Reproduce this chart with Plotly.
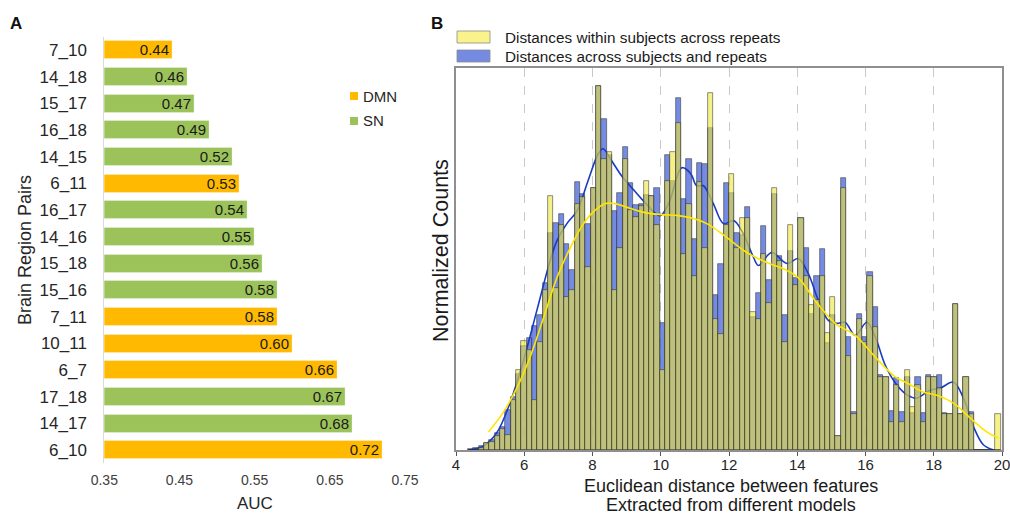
import numpy as np
import plotly.graph_objects as go

# ---------------- Panel A data ----------------
pairs = ["7_10", "14_18", "15_17", "16_18", "14_15", "6_11", "16_17", "14_16",
         "15_18", "15_16", "7_11", "10_11", "6_7", "17_18", "14_17", "6_10"]
auc = [0.44, 0.46, 0.47, 0.49, 0.52, 0.53, 0.54, 0.55,
       0.56, 0.58, 0.58, 0.60, 0.66, 0.67, 0.68, 0.72]
network = ["DMN", "SN", "SN", "SN", "SN", "DMN", "SN", "SN",
           "SN", "SN", "DMN", "DMN", "DMN", "SN", "SN", "DMN"]
auc_ticks = [0.35, 0.45, 0.55, 0.65, 0.75]

# ---------------- Panel B data ----------------
bin_first_left = 4.356
bin_width = 0.156
across_counts = [1, 2, 4, 7, 10, 17, 23, 40, 53, 76, 104, 112, 124, 135, 167, 218, 228, 237, 207, 180,
                 269, 257, 227, 263, 365, 332, 296, 240, 258, 304, 268, 246, 247, 256, 255, 263, 127, 296, 270, 353,
                 252, 292, 212, 288, 287, 323, 155, 186, 268, 258, 218, 216, 244, 133, 157, 225, 170, 257, 195, 135,
                 200, 172, 233, 203, 136, 174, 202, 107, 135, 14, 273, 113, 38, 136, 113, 178, 143, 75, 73, 39,
                 72, 38, 73, 37, 73, 37, 75, 73, 75, 37, 36, 146, 36, 73, 38, 0, 0, 0, 0, 0]
within_counts = [0, 0, 2, 7, 8, 14, 21, 15, 50, 80, 109, 100, 50, 108, 160, 255, 162, 226, 153, 160,
                 247, 254, 183, 263, 365, 292, 299, 160, 203, 292, 241, 234, 245, 270, 255, 226, 80, 270, 299, 328,
                 197, 247, 174, 269, 203, 358, 131, 116, 226, 277, 203, 233, 233, 138, 131, 197, 147, 263, 190, 108,
                 226, 165, 233, 174, 145, 150, 174, 117, 153, 14, 263, 94, 36, 131, 108, 174, 123, 73, 73, 28,
                 65, 28, 80, 43, 65, 28, 73, 73, 62, 36, 36, 146, 36, 73, 36, 0, 0, 0, 0, 36]
across_counts = [v / 1000 for v in across_counts]
within_counts = [v / 1000 for v in within_counts]

kde_across_x = [4.40, 4.80, 5.19, 5.58, 5.98, 6.37, 6.76, 6.96, 7.25, 7.55, 7.87, 8.17, 8.31, 8.56, 8.85,
                9.15, 9.54, 9.98, 10.23, 10.62, 10.88, 11.05, 11.25, 11.54, 11.84, 12.13, 12.37, 12.72, 12.86,
                13.25, 13.70, 14.03, 14.32, 14.62, 14.91, 15.16, 15.40, 15.70, 16.04, 16.29, 16.58, 16.88,
                17.23, 17.50, 17.89, 18.19, 18.58, 18.87, 19.17, 19.46, 19.76]
kde_across_y = [0, 4, 17, 47, 90, 140, 190, 210, 227, 240, 270, 297, 302, 290, 275,
                263, 248, 235, 247, 283, 277, 265, 265, 247, 227, 230, 220, 193, 185,
                198, 187, 192, 177, 150, 130, 127, 128, 115, 128, 113, 85, 67,
                55, 52, 60, 62, 68, 52, 23, 5, 0]
kde_within_x = [4.95, 5.39, 5.78, 6.17, 6.57, 6.96, 7.35, 7.70, 7.97, 8.36, 8.65, 9.04, 9.54, 10.02,
                10.51, 10.86, 11.35, 11.94, 12.52, 13.11, 13.70, 14.05, 14.52, 15.11, 15.70, 16.29,
                16.88, 17.23, 17.70, 18.09, 18.58, 19.07, 19.56, 19.89]
kde_within_y = [18, 38, 62, 93, 133, 173, 203, 225, 237, 247, 247, 243, 238, 236,
                235, 233, 227, 213, 198, 188, 180, 172, 150, 127, 115, 93,
                73, 67, 58, 55, 47, 32, 18, 12]
kde_across_y = [v / 1000 for v in kde_across_y]
kde_within_y = [v / 1000 for v in kde_within_y]
dist_ticks = [4, 6, 8, 10, 12, 14, 16, 18, 20]

bin_centers = bin_first_left + bin_width * (np.arange(len(across_counts)) + 0.5)

# ---------------- styling ----------------
W, H = 1010, 515
FONT = "Liberation Sans, Arial, sans-serif"
ORANGE = "#FFB901"
GREEN = "#9CC35A"
BLUE_BAR = "rgba(70,100,215,0.75)"
YEL_BAR = "rgba(240,230,60,0.6)"
EDGE = "rgba(45,45,45,0.75)"


def px_x(p):
    return p / W


def px_y(p):
    return 1 - p / H


fig = go.Figure()

# Panel A bars
for net, col in [("DMN", ORANGE), ("SN", GREEN)]:
    ys = [p for p, n in zip(pairs, network) if n == net]
    xs = [a for a, n in zip(auc, network) if n == net]
    fig.add_trace(go.Bar(
        x=xs, y=ys, orientation="h", name=net, width=0.68,
        marker=dict(color=col, line=dict(color="rgba(255,255,255,0.6)", width=0.5)),
        text=xs, texttemplate="%{x:.2f}", textposition="inside", insidetextanchor="end",
        constraintext="none",
        textfont=dict(size=15, color="#1a1a1a", family=FONT),
        xaxis="x", yaxis="y", showlegend=False, hoverinfo="skip", cliponaxis=True))

# Panel B: across subjects (blue) bars + KDE under the yellow layer
fig.add_trace(go.Bar(
    x=bin_centers, y=across_counts, width=bin_width,
    marker=dict(color=BLUE_BAR, line=dict(color=EDGE, width=0.7)),
    xaxis="x2", yaxis="y2", showlegend=False))
fig.add_trace(go.Scatter(
    x=kde_across_x, y=kde_across_y, mode="lines", line=dict(color="#1a3cc0", width=1.6, shape="spline"),
    xaxis="x2", yaxis="y2", showlegend=False))
# within subjects (yellow) on overlay axes
fig.add_trace(go.Bar(
    x=bin_centers, y=within_counts, width=bin_width,
    marker=dict(color=YEL_BAR, line=dict(color=EDGE, width=0.7)),
    xaxis="x3", yaxis="y3", showlegend=False))
fig.add_trace(go.Scatter(
    x=kde_within_x, y=kde_within_y, mode="lines", line=dict(color="#FFE600", width=1.6, shape="spline"),
    xaxis="x3", yaxis="y3", showlegend=False))

yB_top = 0.383

fig.update_layout(
    template="none",
    width=W, height=H, margin=dict(l=0, r=0, t=0, b=0, pad=0, autoexpand=False),
    paper_bgcolor="white", plot_bgcolor="rgba(0,0,0,0)",
    barmode="overlay", bargap=0, showlegend=False,
    font=dict(family=FONT, color="#262626"),
    xaxis=dict(domain=[px_x(104.3), px_x(405)], range=[0.35, 0.75], anchor="y", automargin=False,
               tickvals=auc_ticks, ticktext=[f"{t:.2f}" for t in auc_ticks],
               showgrid=False, zeroline=False, showline=False,
               ticks="outside", ticklen=4, tickcolor="rgba(0,0,0,0)",
               tickfont=dict(size=14, color="#404040")),
    yaxis=dict(domain=[px_y(463.3), px_y(36.7)], anchor="x", type="category", automargin=False,
               categoryorder="array", categoryarray=pairs, autorange="reversed",
               showgrid=False, zeroline=False, showline=True, linecolor="#d9d9d9", linewidth=1,
               ticks="outside", ticklen=13, tickcolor="rgba(0,0,0,0)",
               tickfont=dict(size=17, color="#262626")),
    xaxis2=dict(domain=[px_x(456), px_x(1002)], range=[4, 20], anchor="y2", automargin=False,
                tickvals=dist_ticks, showgrid=True, gridcolor="#c9c9c9", griddash="dash", gridwidth=1,
                zeroline=False, showline=True, mirror=True, linecolor="#8f8f8f", linewidth=1.5,
                ticks="outside", ticklen=4, tickcolor="#555555", ticklabelstandoff=-4,
                ticklabeloverflow="allow",
                tickfont=dict(size=15, color="#262626")),
    yaxis2=dict(domain=[px_y(450), px_y(68)], range=[0, yB_top], anchor="x2", automargin=False,
                showgrid=False, zeroline=False, showticklabels=False, ticks="",
                showline=True, mirror=True, linecolor="#8f8f8f", linewidth=1.5),
    xaxis3=dict(overlaying="x2", range=[4, 20], visible=False, anchor="y3", automargin=False),
    yaxis3=dict(overlaying="y2", range=[0, yB_top], visible=False, anchor="x3", automargin=False),
)

ann = []
shapes = []


def add_text(text, x, y, size, color="#262626", angle=0, xanchor="center"):
    ann.append(dict(text=text, x=px_x(x), y=px_y(y), xref="paper", yref="paper",
                    xanchor=xanchor, yanchor="middle", textangle=angle, showarrow=False,
                    font=dict(size=size, color=color, family=FONT)))


# panel letters
add_text("<b>A</b>", 16, 23, 17, "#111111")
add_text("<b>B</b>", 437, 23, 17, "#111111")
# panel A axis titles
add_text("Brain Region Pairs", 25, 250, 18, angle=-90)
add_text("AUC", 255, 503, 17)
# panel A legend
for lab, col, yc in [("DMN", ORANGE, 96), ("SN", GREEN, 121)]:
    shapes.append(dict(type="rect", xref="paper", yref="paper",
                       x0=px_x(350), x1=px_x(358), y0=px_y(yc + 4), y1=px_y(yc - 4),
                       fillcolor=col, line=dict(width=0)))
    add_text(lab, 361, yc, 15, xanchor="left")
# panel B axis titles
add_text("Normalized Counts", 441, 251, 21.5, "#1a1a1a", angle=-90)
add_text("Euclidean distance between features", 731, 486, 18, "#1a1a1a")
add_text("Extracted from different models", 731, 505, 18, "#1a1a1a")
# panel B legend
for lab, col, yc in [("Distances within subjects across repeats", "rgba(250,243,140,1)", 37),
                     ("Distances across subjects and repeats", "rgba(116,139,225,1)", 56)]:
    shapes.append(dict(type="rect", xref="paper", yref="paper",
                       x0=px_x(457), x1=px_x(490), y0=px_y(yc + 6), y1=px_y(yc - 6),
                       fillcolor=col, line=dict(color="#8a8a8a", width=0.8)))
    add_text(lab, 503, yc, 15.3, "#1a1a1a", xanchor="left")

fig.update_layout(annotations=ann, shapes=shapes)
fig.write_html("out.html", config={"displayModeBar": False},
               post_script="document.body.style.margin='0px';")
